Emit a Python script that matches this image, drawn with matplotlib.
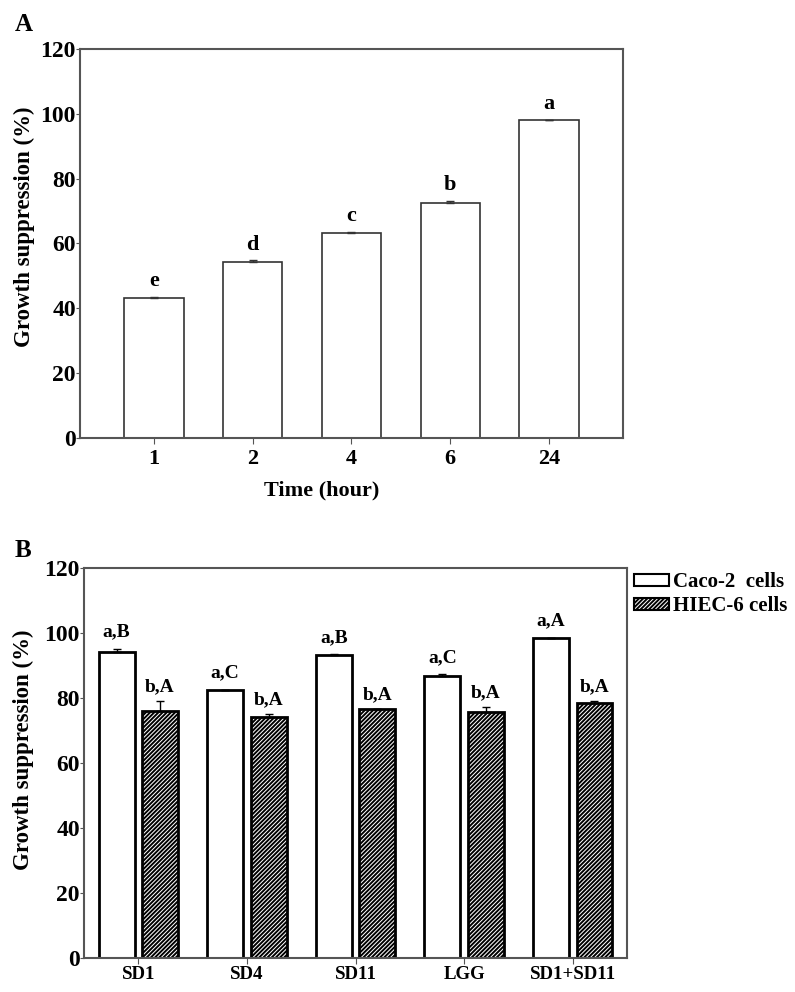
import matplotlib
matplotlib.use('Agg')
import matplotlib.pyplot as plt
import matplotlib.patches as mpatches
import numpy as np

plt.rcParams['font.family'] = ['Liberation Serif', 'DejaVu Serif']
plt.rcParams['font.weight'] = 'bold'
plt.rcParams['hatch.linewidth'] = 1.4

# panel A data
times = ['1', '2', '4', '6', '24']
supp_a = [43.2, 54.3, 63.3, 72.4, 98.1]
err_a = [0.3, 0.5, 0.3, 0.7, 0.1]
letters_a = ['e', 'd', 'c', 'b', 'a']

# panel B data
strains = ['SD1', 'SD4', 'SD11', 'LGG', 'SD1+SD11']
caco = [94.2, 82.4, 93.2, 86.9, 98.5]
caco_err = [1.0, 0.2, 0.2, 0.4, 0.1]
hiec = [76.0, 74.3, 76.5, 75.8, 78.5]
hiec_err = [3.2, 0.7, 0.2, 1.5, 0.5]
caco_lab = ['a,B', 'a,C', 'a,B', 'a,C', 'a,A']
hiec_lab = ['b,A', 'b,A', 'b,A', 'b,A', 'b,A']

fig = plt.figure(figsize=(7.95, 9.92), dpi=100)
spine_col = '#555555'


def style_axes(ax):
    for s in ax.spines.values():
        s.set_color(spine_col)
        s.set_linewidth(1.5)
    ax.set_ylim(0, 120)
    ax.set_yticks([0, 20, 40, 60, 80, 100, 120])
    ax.tick_params(axis='y', length=3, pad=0, labelsize=17, color=spine_col)
    ax.tick_params(axis='x', length=4, pad=4, color=spine_col)


# ---- A ----
axA = fig.add_axes([0.1006, 0.5585, 0.683, 0.3921])
x = np.arange(len(times))
axA.bar(x, supp_a, width=0.6, color='white', edgecolor='#333333', linewidth=1.2,
        yerr=[np.zeros(len(err_a)), err_a], capsize=3,
        error_kw=dict(ecolor='#333333', elinewidth=1, capthick=1))
for i in range(len(times)):
    axA.text(x[i], supp_a[i] + err_a[i] + 3.3, letters_a[i], ha='center', va='baseline',
             fontsize=16, fontweight='bold')
axA.set_xlim(-0.75, 4.75)
axA.set_xticks(x)
axA.set_xticklabels(times, fontsize=16)
style_axes(axA)
axA.set_ylabel('Growth suppression (%)', fontsize=16.5, fontweight='bold')
axA.yaxis.set_label_coords(-0.082, 0.542)
axA.set_xlabel('Time (hour)', fontsize=16, fontweight='bold')
axA.xaxis.set_label_coords(0.445, -0.11)
fig.text(0.019, 0.975, 'A', fontsize=18, fontweight='bold', va='center')

# ---- B ----
axB = fig.add_axes([0.1057, 0.0343, 0.683, 0.3931])
xb = np.arange(len(strains))
axB.bar(xb - 0.2, caco, width=0.33, color='white', edgecolor='black', linewidth=2,
        yerr=[np.zeros(5), caco_err], capsize=3,
        error_kw=dict(ecolor='black', elinewidth=1, capthick=1), label='Caco-2  cells')
axB.bar(xb + 0.2, hiec, width=0.33, color='white', edgecolor='black', linewidth=2,
        hatch='////////', yerr=[np.zeros(5), hiec_err], capsize=3,
        error_kw=dict(ecolor='black', elinewidth=1, capthick=1), label='HIEC-6 cells')
for i in range(len(strains)):
    axB.text(xb[i] - 0.2, caco[i] + caco_err[i] + 3.8, caco_lab[i], ha='center',
             va='baseline', fontsize=14, fontweight='bold')
    axB.text(xb[i] + 0.2, hiec[i] + hiec_err[i] + 3.0, hiec_lab[i], ha='center',
             va='baseline', fontsize=14, fontweight='bold')
axB.set_xlim(-0.5, 4.5)
axB.set_xticks(xb)
axB.set_xticklabels(strains, fontsize=13.6)
style_axes(axB)
axB.tick_params(axis='x', pad=2)
axB.set_ylabel('Growth suppression (%)', fontsize=16.5, fontweight='bold')
axB.yaxis.set_label_coords(-0.092, 0.533)
fig.text(0.019, 0.445, 'B', fontsize=18, fontweight='bold', va='center')

h1 = mpatches.Patch(facecolor='white', edgecolor='black', linewidth=1.5)
h2 = mpatches.Patch(facecolor='white', edgecolor='black', linewidth=1.5, hatch='////////')
axB.legend([h1, h2], ['Caco-2  cells', 'HIEC-6 cells'], loc='upper left',
           bbox_to_anchor=(1.005, 1.0), frameon=False, prop=dict(size=15, weight='bold'),
           handlelength=1.7, handleheight=0.5, handletextpad=0.2, labelspacing=0.2,
           borderaxespad=0, borderpad=0.2)

fig.savefig('out.png', dpi=100)
